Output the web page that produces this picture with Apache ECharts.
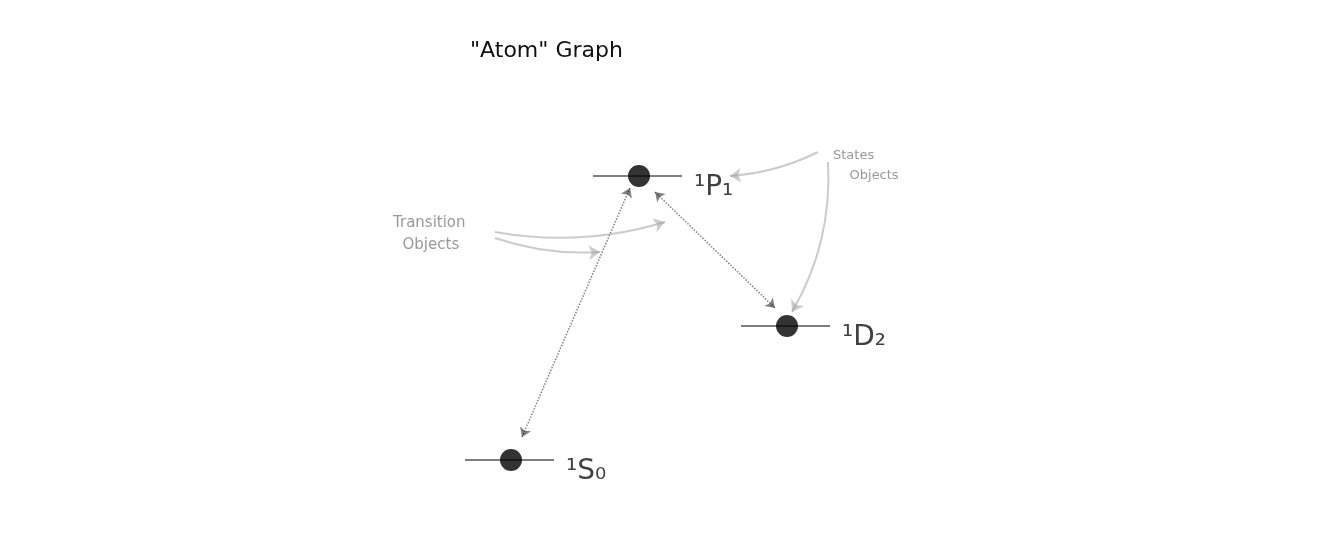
<!DOCTYPE html>
<html><head><meta charset="utf-8">
<script src="https://cdn.jsdelivr.net/npm/echarts@6/dist/echarts.min.js"></script>
<style>html,body{margin:0;background:#fff}#main{width:1326px;height:534px}</style>
</head><body><div id="main"></div>
<script>
// states: name, dot x, level y, half width of level bar
var stateNames = ['1S0', '1P1', '1D2'];
var stateX = [511, 639, 787];
var stateY = [460, 176, 326];
var stateLabels = ['¹S₀', '¹P₁', '¹D₂'];
// transitions between states (dotted, arrow both ends)
var transFrom = [[630, 188], [655, 192]];
var transTo = [[522, 437], [775, 308]];
// annotation arrows
var noteFrom = [[495, 232], [495, 238], [818, 152], [828, 162]];
var noteTo = [[665, 222], [600, 252], [730, 176], [792, 312]];
var noteCurve = [-0.12, -0.1, 0.1, 0.15];

var dom = document.getElementById('main');
var myChart = echarts.init(dom);

var levels = stateNames.map(function (n, i) {
    return { coords: [[stateX[i] - 46, stateY[i]], [stateX[i] + 43, stateY[i]]] };
});

var option = {
    animation: false,
    grid: { left: 0, right: 0, top: 0, bottom: 0 },
    xAxis: { type: 'value', min: 0, max: 1326, show: false },
    yAxis: { type: 'value', min: 0, max: 534, inverse: true, show: false },
    graphic: [
        { type: 'text', left: 470, top: 40, style: { text: '"Atom" Graph', font: '22px "DejaVu Sans"', fill: '#111' } },
        { type: 'text', left: 393, top: 212, style: { text: 'Transition\n  Objects', font: '15px "DejaVu Sans"', fill: '#999', lineHeight: 22 } },
        { type: 'text', left: 833, top: 146, style: { text: 'States\n    Objects', font: '13px "DejaVu Sans"', fill: '#999', lineHeight: 20 } }
    ],
    series: [
        {
            type: 'lines', coordinateSystem: 'cartesian2d', symbol: 'none',
            lineStyle: { color: '#000', width: 2 },
            data: levels
        },
        {
            type: 'lines', coordinateSystem: 'cartesian2d', symbol: ['arrow', 'arrow'], symbolSize: 9,
            lineStyle: { color: '#000', width: 1.5, type: 'dotted' },
            data: transFrom.map(function (f, i) { return { coords: [f, transTo[i]] }; })
        },
        {
            type: 'lines', coordinateSystem: 'cartesian2d', symbol: ['none', 'arrow'], symbolSize: 11,
            lineStyle: { color: '#999', width: 2 },
            data: noteFrom.map(function (f, i) {
                return { coords: [f, noteTo[i]], lineStyle: { curveness: noteCurve[i] } };
            })
        },
        {
            type: 'scatter', symbolSize: 22, itemStyle: { color: '#000' },
            data: stateX.map(function (x, i) { return [x, stateY[i]]; })
        },
        {
            type: 'scatter', symbolSize: 0,
            label: {
                show: true, position: 'right', fontSize: 28, color: '#111', fontFamily: 'DejaVu Sans',
                formatter: function (p) { return stateLabels[p.dataIndex]; }
            },
            data: stateX.map(function (x, i) { return [x + 50, stateY[i] + 12]; })
        }
    ]
};
myChart.setOption(option);
</script>
</body></html>
